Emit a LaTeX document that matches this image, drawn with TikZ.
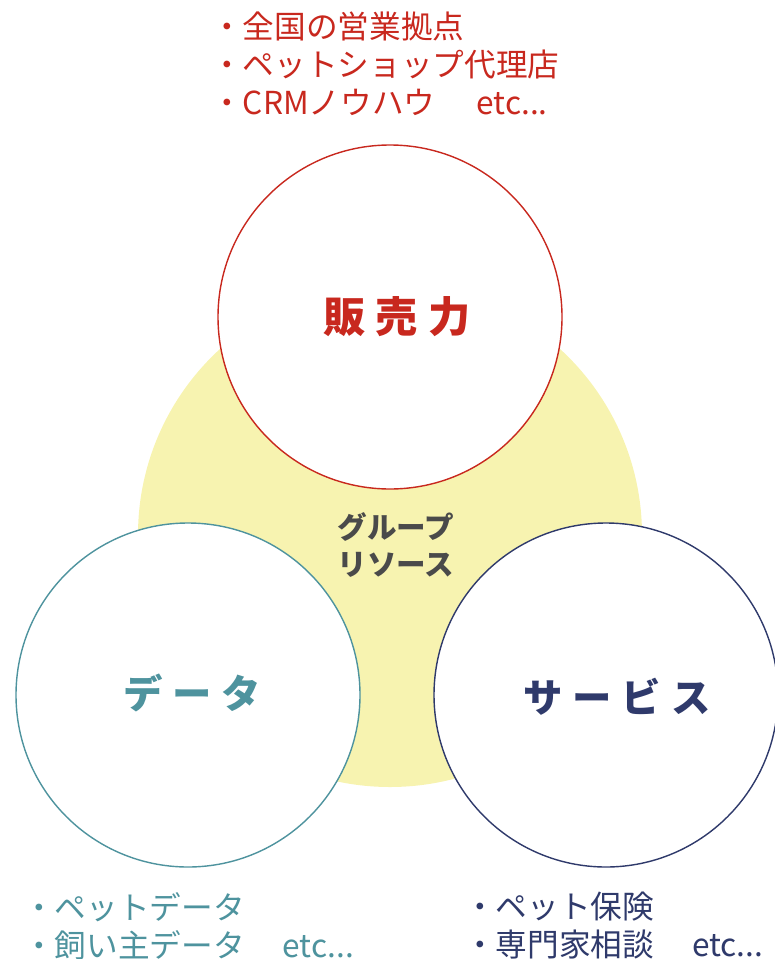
\documentclass[tikz,border=0pt]{standalone}
\usepackage{fontspec}
\setmainfont{Noto Sans CJK JP}
\newfontfamily\jpfont{Noto Sans CJK JP}
\newfontfamily\jpwide[LetterSpace=25]{Noto Sans CJK JP}
\definecolor{salesred}{HTML}{C8281E}
\definecolor{datateal}{HTML}{4E939E}
\definecolor{servicenavy}{HTML}{2F3A6B}
\definecolor{groupyellow}{HTML}{F7F3B0}
\definecolor{groupgray}{HTML}{4A4A4A}
\begin{document}
\begin{tikzpicture}[
        x=0.025cm, y=-0.025cm,
        every node/.style={font=\jpfont},
        % Circle Styles
        basecircle/.style={
            circle,
            fill=white,
            line width=1pt,
            minimum size=344*0.025cm,
            inner sep=0pt
        },
        groupcircle/.style={
            circle,
            fill=groupyellow,
            minimum size=504*0.025cm,
            inner sep=0pt
        },
        salescircle/.style={basecircle, draw=salesred},
        datacircle/.style={basecircle, draw=datateal},
        servicecircle/.style={basecircle, draw=servicenavy},
        % Text Styles
        titletext/.style={font=\jpwide\bfseries\fontsize{28}{32}\selectfont},
        listtext/.style={
            anchor=north west,
            inner sep=0pt,
            align=left,
            font=\jpfont\fontsize{22.5}{27}\selectfont
        }
    ]
    \useasboundingbox (0,0) rectangle (775,959);

    % --- Group Resources (Back) ---
    \node[groupcircle] (group) at (390, 535) {};

    % --- Three Pillars ---
    \node[salescircle] (sales) at (390, 317) {};
    \node[datacircle] (data) at (188, 695) {};
    \node[servicecircle] (service) at (606, 695) {};

    % --- Circle Titles ---
    \node[titletext, text=salesred, font=\jpwide\bfseries\fontsize{30}{32}\selectfont] (salestitle) at (397, 317) {販売力};
    \node[titletext, text=datateal] (datatitle) at (192, 693) {データ};
    \node[titletext, text=servicenavy] (servicetitle) at (617, 697) {サービス};
    \node[align=center, text=groupgray, font=\jpfont\bfseries\fontsize{21}{27}\selectfont] (grouptitle) at (396, 545) {グループ\\リソース};

    % --- Lists ---
    \node[listtext, text=salesred] (saleslist) at (211, 12) {・全国の営業拠点\\・ペットショップ代理店\\・CRMノウハウ\hspace{1.3em}etc...};
    \node[listtext, text=datateal] (datalist) at (23, 892) {・ペットデータ\\・飼い主データ\hspace{1.2em}etc...};
    \node[listtext, text=servicenavy] (servicelist) at (464, 892) {・ペット保険\\・専門家相談\hspace{1.2em}etc...};

\end{tikzpicture}
\end{document}
